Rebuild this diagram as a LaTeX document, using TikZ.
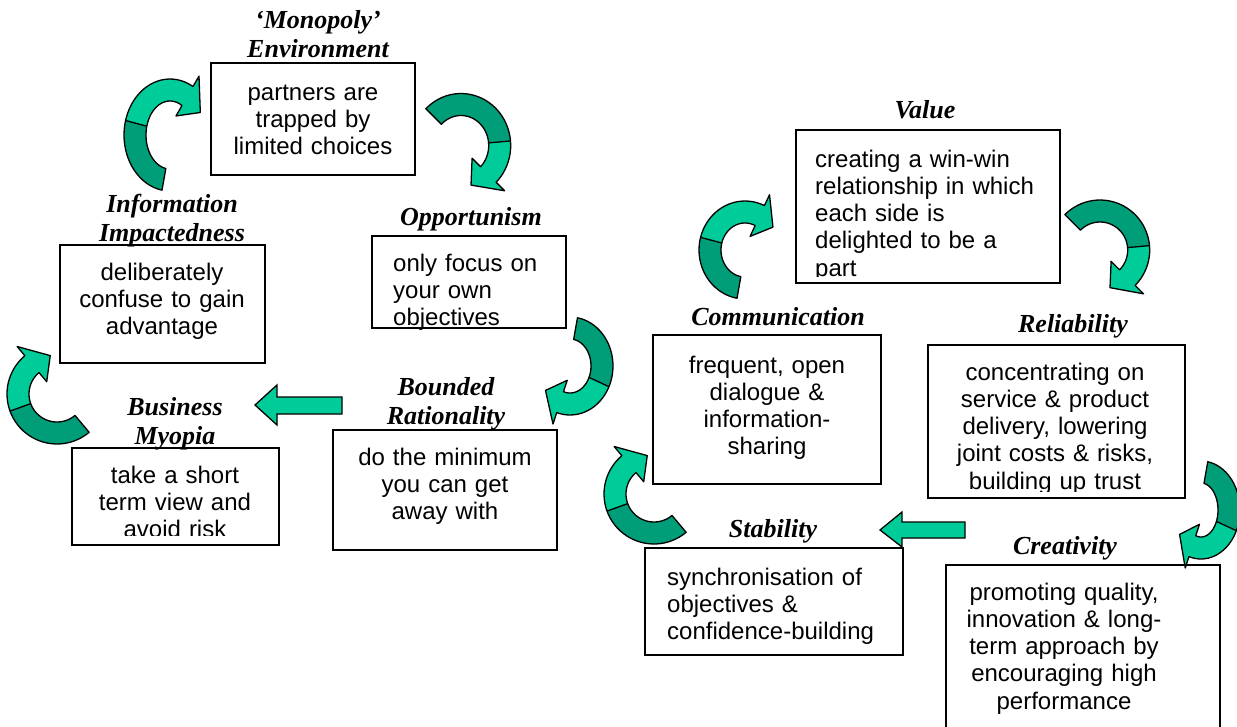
\documentclass[tikz,border=0pt]{standalone}
\usepackage{fontspec}
\setmainfont{Liberation Serif}
\newfontfamily\arialf{Liberation Sans}
\definecolor{lg}{HTML}{00CC99}
\definecolor{dg}{HTML}{009E78}
\newcommand\bw{11}
\newcommand\hwd{23}
% cx cy rx ry a1 amid a2 tipdelta
\newcommand\carrow[8]{%
 \fill[dg] plot[domain=#5:#6,samples=24] ({#1+(#3+\bw)*cos(\x)},{#2+(#4+\bw)*sin(\x)})
   -- plot[domain=#6:#5,samples=24] ({#1+(#3-\bw)*cos(\x)},{#2+(#4-\bw)*sin(\x)}) -- cycle;
 \fill[lg] plot[domain=#6:#7,samples=24] ({#1+(#3+\bw)*cos(\x)},{#2+(#4+\bw)*sin(\x)})
   -- ({#1+(#3+\hwd)*cos(#7)},{#2+(#4+\hwd)*sin(#7)})
   -- ({#1+#3*cos(#7+#8)},{#2+#4*sin(#7+#8)})
   -- ({#1+(#3-\hwd)*cos(#7)},{#2+(#4-\hwd)*sin(#7)})
   -- plot[domain=#7:#6,samples=24] ({#1+(#3-\bw)*cos(\x)},{#2+(#4-\bw)*sin(\x)}) -- cycle;
 \draw[aline] plot[domain=#5:#7,samples=40] ({#1+(#3+\bw)*cos(\x)},{#2+(#4+\bw)*sin(\x)})
   -- ({#1+(#3+\hwd)*cos(#7)},{#2+(#4+\hwd)*sin(#7)})
   -- ({#1+#3*cos(#7+#8)},{#2+#4*sin(#7+#8)})
   -- ({#1+(#3-\hwd)*cos(#7)},{#2+(#4-\hwd)*sin(#7)})
   -- plot[domain=#7:#5,samples=40] ({#1+(#3-\bw)*cos(\x)},{#2+(#4-\bw)*sin(\x)}) -- cycle;
 \draw[aline] ({#1+(#3+\bw)*cos(#6)},{#2+(#4+\bw)*sin(#6)}) -- ({#1+(#3-\bw)*cos(#6)},{#2+(#4-\bw)*sin(#6)});
}
\begin{document}
\begin{tikzpicture}[x=1pt,y=-1pt,
  box/.style={draw,line width=1.5pt,fill=white},
  aline/.style={line width=1.3pt,line join=round},
  sarrow/.style={draw,fill=lg,line width=1.3pt,line join=miter},
  hd/.style={font=\fontsize{26}{29}\selectfont\bfseries\itshape,inner sep=0pt,anchor=base,text width=260pt,align=center},
  bd/.style={font=\arialf\fontsize{24}{27.3}\selectfont,inner sep=0pt,anchor=base,text width=260pt,align=center},
  bdl/.style={font=\arialf\fontsize{24}{27.3}\selectfont,inner sep=0pt,anchor=base west,text width=260pt,align=left}]
\useasboundingbox (0,0) rectangle (1237,726);

% ---------- left cycle ----------
\draw[box] (211,63) rectangle (415,175);
\node[bd] (tmono) at (313,100) {partners are\\trapped by\\limited choices};
\node[hd] (hmono) at (318,28) {‘Monopoly’\\Environment};

\draw[box] (60,245) rectangle (265,363);
\node[bd] (tinfo) at (162,280) {deliberately\\confuse to gain\\advantage};
\node[hd] (hinfo) at (172,212) {Information\\Impactedness};

\draw[box] (372,236) rectangle (566,328);
\node[bdl] (topp) at (393,271) {only focus on\\your own\\objectives};
\node[hd] (hopp) at (471,225) {Opportunism};

\draw[box] (333,430) rectangle (557,550);
\node[bd] (tbound) at (445,465) {do the minimum\\you can get\\away with};
\node[hd] (hbound) at (446,395) {Bounded\\Rationality};

\draw[box] (72,448) rectangle (279,545);
\begin{scope}
\clip (74,450) rectangle (277,535);
\node[bd] (tbus) at (175,483) {take a short\\term view and\\avoid risk};
\end{scope}
\node[hd] (hbus) at (175,415) {Business\\Myopia};

% ---------- right cycle ----------
\draw[box] (796,130) rectangle (1060,283);
\begin{scope}
\clip (798,132) rectangle (1058,276);
\node[bdl] (tval) at (815,167) {creating a win-win\\relationship in which\\each side is\\delighted to be a\\part};
\end{scope}
\node[hd] (hval) at (925,118) {Value};

\draw[box] (653,335) rectangle (881,484);
\node[bd] (tcom) at (767,373) {frequent, open\\dialogue \&\\information-\\sharing};
\node[hd] (hcom) at (778,325) {Communication};

\draw[box] (928,345) rectangle (1185,498);
\begin{scope}
\clip (930,347) rectangle (1183,491);
\node[bd] (trel) at (1055,380) {concentrating on\\service \& product\\delivery, lowering\\joint costs \& risks,\\building up trust};
\end{scope}
\node[hd] (hrel) at (1073,332) {Reliability};

\draw[box] (645,548) rectangle (903,655);
\node[bdl] (tstab) at (667,585) {synchronisation of\\objectives \&\\confidence-building};
\node[hd] (hstab) at (773,537) {Stability};

\draw[box] (946,565) rectangle (1220,740);
\node[bd] (tcre) at (1064,600) {promoting quality,\\innovation \& long-\\term approach by\\encouraging high\\performance};
\node[hd] (hcre) at (1065,554) {Creativity};

% ---------- curved arrows ----------
\carrow{170}{135}{35}{45}{100}{195}{300}{30}
\carrow{461}{145.5}{38.7}{41}{225}{355}{405}{30}
\carrow{57}{394}{39}{39}{50}{160}{230}{30}
\carrow{570}{366}{32}{38}{280}{385}{468}{32}
\carrow{745}{250}{35}{38}{100}{195}{295}{28}
\carrow{1100}{250}{38.7}{39}{225}{355}{405}{30}
\carrow{654}{494}{39}{39}{50}{160}{230}{30}
\carrow{1201}{510}{28}{38}{280}{385}{468}{32}

% ---------- straight arrows ----------
\draw[sarrow] (342,397) -- (277,397) -- (277,385) -- (255,405) -- (277,425) -- (277,414) -- (342,414) -- cycle;
\draw[sarrow] (965,522) -- (902,522) -- (902,512) -- (880,530) -- (902,547) -- (902,538) -- (965,538) -- cycle;
\end{tikzpicture}
\end{document}
